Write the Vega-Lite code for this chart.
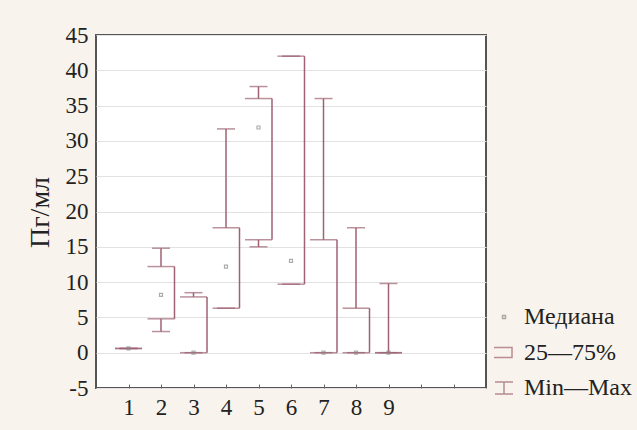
{
  "$schema": "https://vega.github.io/schema/vega-lite/v6.json",
  "autosize": {"type": "none"},
  "padding": {"left": 96, "top": 35, "right": 151, "bottom": 42},
  "width": 390,
  "height": 353,
  "background": "#f8f3ec",
  "config": {
    "view": {"stroke": "#555555", "strokeWidth": 2, "fill": "white"},
    "font": "Liberation Serif"
  },
  "data": {
    "values": [
      {"g": 1, "mn": 0.6, "q1": 0.6, "med": 0.6, "q3": 0.6, "mx": 0.6},
      {"g": 2, "mn": 3.0, "q1": 4.8, "med": 8.2, "q3": 12.2, "mx": 14.8},
      {"g": 3, "mn": 0, "q1": 0, "med": 0, "q3": 7.9, "mx": 8.5},
      {"g": 4, "mn": 6.3, "q1": 6.3, "med": 12.2, "q3": 17.7, "mx": 31.7},
      {"g": 5, "mn": 15.0, "q1": 16.0, "med": 31.9, "q3": 36.0, "mx": 37.7},
      {"g": 6, "mn": 9.7, "q1": 9.7, "med": 13.0, "q3": 42.0, "mx": 42.0},
      {"g": 7, "mn": 0, "q1": 0, "med": 0, "q3": 16.0, "mx": 36.0},
      {"g": 8, "mn": 0, "q1": 0, "med": 0, "q3": 6.3, "mx": 17.7},
      {"g": 9, "mn": 0, "q1": 0, "med": 0, "q3": 0, "mx": 9.8}
    ]
  },
  "encoding": {
    "x": {
      "field": "g", "type": "quantitative",
      "scale": {"domain": [0, 12], "nice": false, "zero": false},
      "axis": {
        "title": null, "values": [1, 2, 3, 4, 5, 6, 7, 8, 9, 10, 11], "tickCount": 12,
        "labelExpr": "datum.value <= 9 ? datum.label : ''",
        "labelOverlap": false,
        "grid": false, "domain": false, "ticks": true, "tickSize": -4, "tickColor": "#666666",
        "labelFont": "Liberation Serif", "labelFontSize": 23, "labelColor": "#222222",
        "labelPadding": 12
      }
    }
  },
  "layer": [
    {
      "mark": {"type": "rule", "color": "#9e6272", "strokeWidth": 1.5},
      "encoding": {
        "y": {
          "field": "q3", "type": "quantitative",
          "scale": {"domain": [-5, 45], "nice": false, "zero": false},
          "axis": {
            "title": "Пг/мл", "values": [-5, 0, 5, 10, 15, 20, 25, 30, 35, 40, 45], "tickCount": 12,
            "labelExpr": "'' + datum.value",
            "labelOverlap": false,
            "grid": true, "gridColor": "#e2e2e2", "gridWidth": 1,
            "domain": false, "ticks": false,
            "labelFont": "Liberation Serif", "labelFontSize": 23, "labelColor": "#222222",
            "labelPadding": 8,
            "titleFont": "Liberation Serif", "titleFontSize": 28, "titleFontWeight": "normal",
            "titleColor": "#222222", "titleX": -48, "titleY": 177, "titleBaseline": "alphabetic"
          }
        },
        "y2": {"field": "mx"}
      }
    },
    {
      "mark": {"type": "rule", "color": "#9e6272", "strokeWidth": 1.5},
      "encoding": {"y": {"field": "mn", "type": "quantitative"}, "y2": {"field": "q1"}}
    },
    {
      "mark": {"type": "tick", "orient": "horizontal", "size": 18, "thickness": 1.5, "color": "#9e6272"},
      "encoding": {"y": {"field": "mx", "type": "quantitative"}}
    },
    {
      "mark": {"type": "tick", "orient": "horizontal", "size": 18, "thickness": 1.5, "color": "#9e6272"},
      "encoding": {"y": {"field": "mn", "type": "quantitative"}}
    },
    {
      "mark": {"type": "tick", "orient": "horizontal", "size": 27, "thickness": 1.5, "color": "#9e6272"},
      "encoding": {"y": {"field": "q3", "type": "quantitative"}}
    },
    {
      "mark": {"type": "tick", "orient": "horizontal", "size": 27, "thickness": 1.5, "color": "#9e6272"},
      "encoding": {"y": {"field": "q1", "type": "quantitative"}}
    },
    {
      "mark": {"type": "rule", "color": "#9e6272", "strokeWidth": 1.5, "xOffset": 13.5},
      "encoding": {"y": {"field": "q1", "type": "quantitative"}, "y2": {"field": "q3"}}
    },
    {
      "mark": {"type": "point", "filled": false, "size": 400, "strokeWidth": 1.2},
      "encoding": {
        "y": {"field": "med", "type": "quantitative"},
        "shape": {
          "datum": "Медиана",
          "scale": {
            "domain": ["Медиана", "25—75%", "Min—Max"],
            "range": [
              "M-0.15,-0.15H0.15V0.15H-0.15Z",
              "M-1,-0.5H0.8V0.5H-1",
              "M-0.9,-0.6H0.9M0,-0.6V0.6M-0.9,0.6H0.9"
            ]
          },
          "legend": {
            "title": null, "orient": "none", "legendX": 396, "legendY": 270,
            "padding": 0, "rowPadding": 11.5, "labelOffset": 8,
            "symbolSize": 400, "symbolStrokeWidth": 1.5,
            "labelFont": "Liberation Serif", "labelFontSize": 24, "labelColor": "#222222",
            "labelLimit": 300
          }
        },
        "color": {
          "datum": "Медиана",
          "scale": {
            "domain": ["Медиана", "25—75%", "Min—Max"],
            "range": ["#8a8a8a", "#9e6272", "#9e6272"]
          },
          "legend": {
            "title": null, "orient": "none", "legendX": 396, "legendY": 270,
            "padding": 0, "rowPadding": 11.5, "labelOffset": 8,
            "symbolSize": 400, "symbolStrokeWidth": 1.5,
            "labelFont": "Liberation Serif", "labelFontSize": 24, "labelColor": "#222222",
            "labelLimit": 300
          }
        }
      }
    }
  ]
}
